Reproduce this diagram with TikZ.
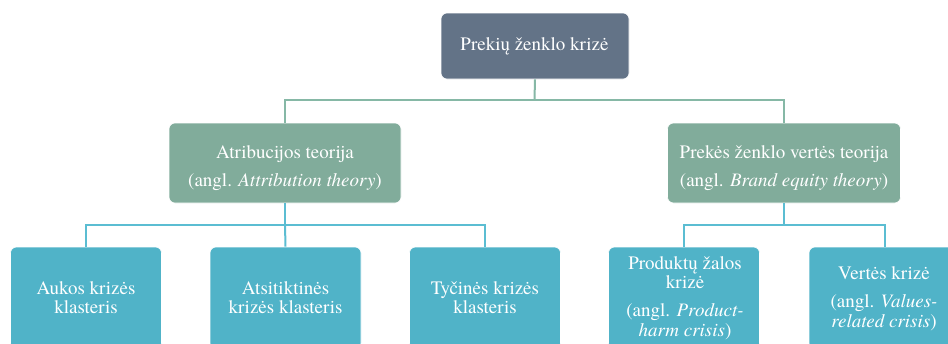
\documentclass[tikz,border=0pt]{standalone}
\usepackage{fontspec}
\IfFontExistsTF{texgyretermes-regular.otf}{%
  \setmainfont{texgyretermes}[Extension=.otf, UprightFont=*-regular, ItalicFont=*-italic, BoldFont=*-bold, BoldItalicFont=*-bolditalic]
  \newcommand\txtsize{\fontsize{19}{19.5}\selectfont}}{%
  \newcommand\txtsize{\fontsize{17.5}{19.5}\selectfont}}
\definecolor{topc}{RGB}{99,115,135}
\definecolor{midc}{RGB}{129,172,155}
\definecolor{botc}{RGB}{80,179,200}
\definecolor{lineA}{RGB}{134,184,166}
\definecolor{lineB}{RGB}{91,189,210}
\tikzset{
  box/.style={draw=white, line width=0.6pt, rounded corners=6pt, inner sep=0pt},
  txt/.style={text=white, align=center, inner sep=0pt, font=\rmfamily\txtsize},
  conA/.style={draw=lineA, line width=2pt},
  conB/.style={draw=lineB, line width=2pt},
}
\begin{document}
\begin{tikzpicture}[x=1pt,y=-1pt]
\clip (0,0) rectangle (948,343);
\fill[white] (0,0) rectangle (948,343);
% boxes
\node[box, fill=topc, minimum width=188pt, minimum height=66pt] (top) at (535,46) {};
\node[box, fill=midc, minimum width=232pt, minimum height=80pt] (m1) at (285,163) {};
\node[box, fill=midc, minimum width=233pt, minimum height=80pt] (m2) at (784,163) {};
\node[box, fill=botc, minimum width=151pt, minimum height=102pt] (b1) at (86,298) {};
\node[box, fill=botc, minimum width=151pt, minimum height=102pt] (b2) at (285.5,298) {};
\node[box, fill=botc, minimum width=151pt, minimum height=102pt] (b3) at (485,298) {};
\node[box, fill=botc, minimum width=151pt, minimum height=102pt] (b4) at (684,298) {};
\node[box, fill=botc, minimum width=151pt, minimum height=102pt] (b5) at (884.5,298) {};
% texts
\node[txt] (ttop) at (534.5,46.5) {Prekių ženklo krizė};
\node[txt] (tm1) at (285,168.5) {Atribucijos teorija\\[8.5pt](angl. \textit{Attribution theory})};
\node[txt] (tm2) at (784,168.5) {Prekės ženklo vertės teorija\\[8.5pt](angl. \textit{Brand equity theory})};
\node[txt] (tb1) at (86,297.5) {Aukos krizės\\klasteris};
\node[txt] (tb2) at (285.5,297.5) {Atsitiktinės\\krizės klasteris};
\node[txt] (tb3) at (485,297.5) {Tyčinės krizės\\klasteris};
\node[txt] (tb4) at (685,298) {Produktų žalos\\krizė\\[8.5pt](angl. \textit{Product-}\\\textit{harm crisis})};
\node[txt] (tb5) at (884,298.5) {Vertės krizė\\[8.5pt](angl. \textit{Values-}\\\textit{related crisis})};
% connectors
\coordinate (j0) at (534.5,100);
\draw[conA] (top.south) -- (j0);
\draw[conA] (j0) -| (m1.north);
\draw[conA] (j0) -| (m2.north);
\coordinate (j1) at (285,225);
\draw[conB] (m1.south) -- (j1);
\draw[conB] (j1) -| (b1.north);
\draw[conB] (j1) -| (b3.north);
\draw[conB] (j1) -- (b2.north);
\coordinate (j2) at (784,225);
\draw[conB] (m2.south) -- (j2);
\draw[conB] (j2) -| (b4.north);
\draw[conB] (j2) -| (b5.north);
\end{tikzpicture}
\end{document}
